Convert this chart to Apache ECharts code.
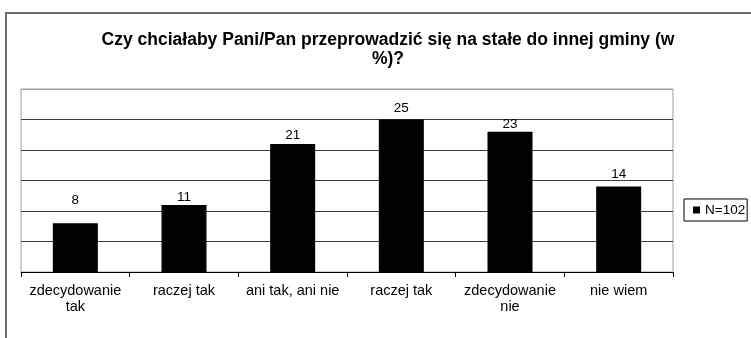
<!DOCTYPE html>
<html>
<head>
<meta charset="utf-8">
<script src="https://cdn.jsdelivr.net/npm/echarts@6/dist/echarts.min.js"></script>
<style>
  html, body { margin: 0; padding: 0; background: #fff; }
  #chart { width: 751px; height: 338px; }
</style>
</head>
<body>
<div id="chart"></div>
<script>
// Survey answers (percent of respondents)
const categories = ['zdecydowanie\ntak', 'raczej tak', 'ani tak, ani nie', 'raczej tak', 'zdecydowanie\nnie', 'nie wiem'];
const values = [8, 11, 21, 25, 23, 14];
const seriesName = 'N=102';
const titleText = 'Czy chciałaby Pani/Pan przeprowadzić się na stałe do innej gminy (w\n%)?';

// Gap between each value label and the top of its bar
const labelGaps = [16, 1, 2, 4, 0, 5];

const FONT = 'Liberation Sans, Arial, sans-serif';

const chart = echarts.init(document.getElementById('chart'), null, { renderer: 'canvas' });

chart.setOption({
  animation: false,
  backgroundColor: '#fff',
  graphic: [{
    type: 'rect',
    shape: { x: 6, y: 13, width: 800, height: 400 },
    style: { fill: 'none', stroke: '#6e6e6e', lineWidth: 2 },
    silent: true,
    z: -10
  }],
  title: {
    text: titleText,
    left: 383,
    top: 26,
    textAlign: 'center',
    textStyle: {
      fontFamily: FONT,
      fontSize: 17.5,
      fontWeight: 'bold',
      color: '#000',
      lineHeight: 19
    }
  },
  legend: {
    left: 684,
    top: 199,
    orient: 'vertical',
    data: [{ name: seriesName, icon: 'rect' }],
    itemWidth: 7,
    itemHeight: 7,
    padding: [4, 2, 4, 9],
    borderColor: '#000',
    borderWidth: 1,
    textStyle: { fontFamily: FONT, fontSize: 13.5, color: '#000' }
  },
  grid: {
    left: 21,
    top: 89,
    right: 78,
    bottom: 66,
    show: true,
    borderColor: '#a0a0a0',
    borderWidth: 1,
    containLabel: false
  },
  xAxis: {
    type: 'category',
    data: categories,
    axisLine: { lineStyle: { color: '#000', width: 1 } },
    axisTick: { show: true, length: 5, lineStyle: { color: '#000' } },
    axisLabel: {
      interval: 0,
      margin: 11,
      fontFamily: FONT,
      fontSize: 14.5,
      color: '#000',
      lineHeight: 16
    },
    splitLine: { show: false }
  },
  yAxis: {
    type: 'value',
    min: 0,
    max: 30,
    interval: 5,
    axisLine: { show: false },
    axisTick: { show: false },
    axisLabel: { show: false },
    splitLine: {
      show: true,
      lineStyle: {
        color: ['#000', '#3c3c3c', '#3c3c3c', '#3c3c3c', '#3c3c3c', '#3c3c3c', '#a0a0a0'],
        width: 1
      }
    }
  },
  series: [{
    name: seriesName,
    type: 'bar',
    barWidth: 45,
    itemStyle: { color: '#000' },
    data: values.map((v, i) => ({
      value: v,
      label: { distance: labelGaps[i] }
    })),
    label: {
      show: true,
      position: 'top',
      fontFamily: FONT,
      fontSize: 13.5,
      color: '#000'
    }
  }]
});
</script>
</body>
</html>
